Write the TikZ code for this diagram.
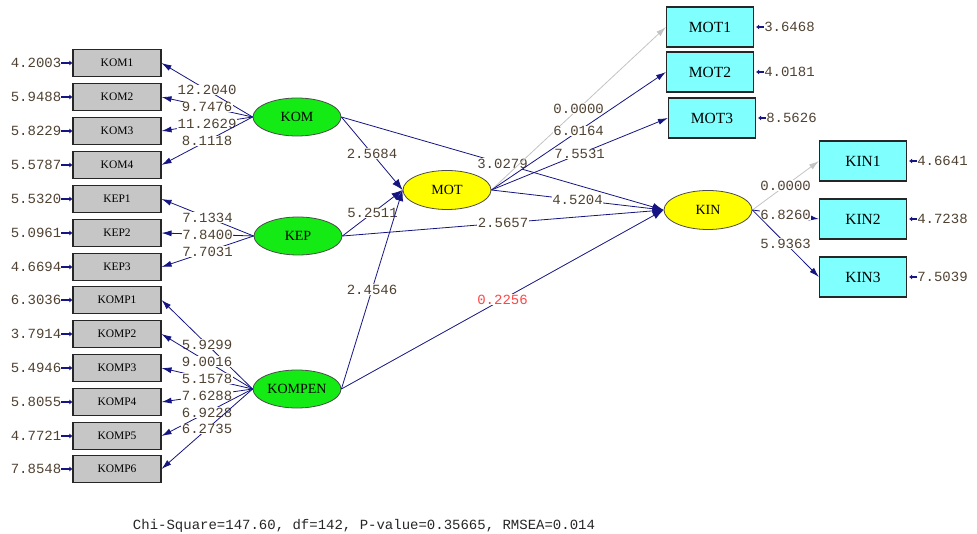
\documentclass[tikz,border=0pt]{standalone}
\usepackage{fontspec}
\setmainfont{Liberation Serif}
\setmonofont{Liberation Mono}
\usetikzlibrary{shapes.geometric,arrows.meta}
\definecolor{navyline}{RGB}{20,20,130}
\definecolor{numcol}{RGB}{80,66,50}
\definecolor{boxgray}{RGB}{198,198,198}
\definecolor{cyanbox}{RGB}{128,255,255}
\definecolor{greenell}{RGB}{20,235,20}
\definecolor{yellowell}{RGB}{255,255,0}
\definecolor{lightline}{RGB}{195,195,195}
\definecolor{redlab}{RGB}{255,70,70}
\tikzset{
  x=1pt, y=-1pt,
  leftbox/.style={draw=black!85, line width=1.1pt, fill=boxgray, minimum width=88pt, minimum height=27pt, inner sep=0pt, font=\fontsize{11.5}{11.5}\selectfont},
  rightbox/.style={draw=black!85, line width=1.1pt, fill=cyanbox, minimum width=87pt, minimum height=40pt, inner sep=0pt, font=\fontsize{15.5}{15.5}\selectfont},
  latg/.style={ellipse, draw=black!70, line width=0.8pt, fill=greenell, minimum width=88pt, minimum height=38pt, inner sep=0pt, font=\fontsize{14}{14}\selectfont},
  laty/.style={ellipse, draw=black!70, line width=0.8pt, fill=yellowell, minimum width=88pt, minimum height=39pt, inner sep=0pt, font=\fontsize{14}{14}\selectfont},
  numtxt/.style={text=numcol, font=\fontsize{14}{14}\selectfont\ttfamily, inner sep=0pt},
  lab/.style={midway, fill=white, text=numcol, font=\fontsize{14}{14}\selectfont\ttfamily, inner sep=0.5pt},
  redlabel/.style={lab, text=redlab},
  load/.style={draw=navyline, line width=0.8pt, -{Latex[length=10pt,width=6pt]}},
  fixload/.style={draw=lightline, line width=0.8pt, -{Latex[length=10pt,width=6pt]}},
  struct/.style={draw=navyline, line width=0.8pt, -{Latex[length=11pt,width=8pt]}},
  errarr/.style={draw=navyline, line width=2pt, -{Latex[length=3pt,width=5pt]}},
}
\begin{document}
\begin{tikzpicture}
\useasboundingbox (0,0) rectangle (977,534);

% left indicator boxes
\node[leftbox] (KOM1) at (117,63) {KOM1};
\node[leftbox] (KOM2) at (117,97) {KOM2};
\node[leftbox] (KOM3) at (117,131) {KOM3};
\node[leftbox] (KOM4) at (117,165) {KOM4};
\node[leftbox] (KEP1) at (117,199) {KEP1};
\node[leftbox] (KEP2) at (117,233) {KEP2};
\node[leftbox] (KEP3) at (117,267) {KEP3};
\node[leftbox] (KOMP1) at (117,300) {KOMP1};
\node[leftbox] (KOMP2) at (117,334) {KOMP2};
\node[leftbox] (KOMP3) at (117,368) {KOMP3};
\node[leftbox] (KOMP4) at (117,402) {KOMP4};
\node[leftbox] (KOMP5) at (117,436) {KOMP5};
\node[leftbox] (KOMP6) at (117,469) {KOMP6};

% left error variances
\foreach \b/\v in {KOM1/4.2003,KOM2/5.9488,KOM3/5.8229,KOM4/5.5787,KEP1/5.5320,KEP2/5.0961,KEP3/4.6694,KOMP1/6.3036,KOMP2/3.7914,KOMP3/5.4946,KOMP4/5.8055,KOMP5/4.7721,KOMP6/7.8548}{
  \node[numtxt, anchor=east] (e\b) at ([xshift=-11pt]\b.west) {\v};
  \draw[errarr] (e\b.east) -- (\b.west);
}

% right indicator boxes
\node[rightbox] (MOT1) at (710,27) {MOT1};
\node[rightbox] (MOT2) at (710,72) {MOT2};
\node[rightbox] (MOT3) at (712,118) {MOT3};
\node[rightbox] (KIN1) at (863,161) {KIN1};
\node[rightbox] (KIN2) at (863,219) {KIN2};
\node[rightbox] (KIN3) at (863,277) {KIN3};

\foreach \b/\v in {MOT1/3.6468,MOT2/4.0181,MOT3/8.5626,KIN1/4.6641,KIN2/4.7238,KIN3/7.5039}{
  \node[numtxt, anchor=west] (e\b) at ([xshift=10pt]\b.east) {\v};
  \draw[errarr] (e\b.west) -- ([xshift=2pt]\b.east);
}

% latent variables
\node[latg] (KOM) at (297,117) {KOM};
\node[latg] (KEP) at (298,236) {KEP};
\node[latg] (KOMPEN) at (297,389) {KOMPEN};
\node[laty] (MOT) at (447,190) {MOT};
\node[laty] (KIN) at (708,210) {KIN};

% loadings, left
\draw[load] (KOM.west) -- (KOM1.east) node[lab] {12.2040};
\draw[load] (KOM.west) -- (KOM2.east) node[lab] {9.7476};
\draw[load] (KOM.west) -- (KOM3.east) node[lab] {11.2629};
\draw[load] (KOM.west) -- (KOM4.east) node[lab] {8.1118};
\draw[load] (KEP.west) -- (KEP1.east) node[lab] {7.1334};
\draw[load] (KEP.west) -- (KEP2.east) node[lab] {7.8400};
\draw[load] (KEP.west) -- (KEP3.east) node[lab] {7.7031};
\draw[load] (KOMPEN.west) -- (KOMP1.east) node[lab] {5.9299};
\draw[load] (KOMPEN.west) -- (KOMP2.east) node[lab] {9.0016};
\draw[load] (KOMPEN.west) -- (KOMP3.east) node[lab] {5.1578};
\draw[load] (KOMPEN.west) -- (KOMP4.east) node[lab] {7.6288};
\draw[load] (KOMPEN.west) -- (KOMP5.east) node[lab] {6.9228};
\draw[load] (KOMPEN.west) -- (KOMP6.east) node[lab] {6.2735};

% structural paths
\draw[struct] (KOM.east) -- (MOT.west) node[lab] {2.5684};
\draw[struct] (KEP.east) -- (MOT.west) node[lab] {5.2511};
\draw[struct] (KOMPEN.east) -- (MOT.west) node[lab] {2.4546};
\draw[struct] (KOM.east) -- (KIN.west) node[lab] {3.0279};
\draw[struct] (KEP.east) -- (KIN.west) node[lab] {2.5657};
\draw[struct] (KOMPEN.east) -- (KIN.west) node[redlabel] {0.2256};
\draw[struct] (MOT.east) -- (KIN.west) node[lab] {4.5204};

% loadings, right
\draw[fixload] (MOT.east) -- (MOT1.west) node[lab] {0.0000};
\draw[load] (MOT.east) -- (MOT2.west) node[lab] {6.0164};
\draw[load] (MOT.east) -- (MOT3.west) node[lab] {7.5531};
\draw[fixload] (KIN.east) -- (KIN1.west) node[lab] {0.0000};
\draw[load] (KIN.east) -- (KIN2.west) node[lab] {6.8260};
\draw[load] (KIN.east) -- (KIN3.west) node[lab] {5.9363};

% fit statistics
\node[font=\fontsize{14}{14}\selectfont\ttfamily, text=black!85, inner sep=0pt] (fit) at (364,526) {Chi-Square=147.60, df=142, P-value=0.35665, RMSEA=0.014};
\end{tikzpicture}
\end{document}
